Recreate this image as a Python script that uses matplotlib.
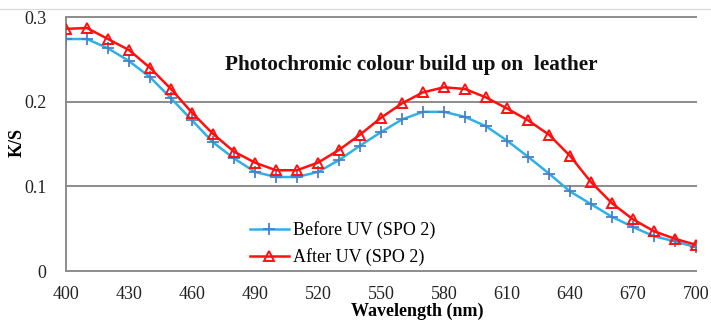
import matplotlib
matplotlib.use("Agg")
import matplotlib.pyplot as plt
from matplotlib.lines import Line2D

wavelength = list(range(400, 701, 10))
before_uv = [0.274, 0.274, 0.263, 0.248, 0.229, 0.204, 0.178, 0.152, 0.133, 0.117,
             0.111, 0.111, 0.117, 0.131, 0.148, 0.164, 0.179, 0.188, 0.188, 0.182,
             0.171, 0.154, 0.135, 0.115, 0.094, 0.079, 0.064, 0.052, 0.041, 0.035, 0.028]
after_uv = [0.286, 0.287, 0.274, 0.261, 0.240, 0.215, 0.187, 0.162, 0.141, 0.128,
            0.119, 0.119, 0.128, 0.143, 0.161, 0.181, 0.198, 0.211, 0.217, 0.215,
            0.205, 0.192, 0.178, 0.161, 0.136, 0.105, 0.080, 0.061, 0.047, 0.038, 0.031]
xticks = [400, 430, 460, 490, 520, 550, 580, 610, 640, 670, 700]
yticks = [0, 0.1, 0.2, 0.3]
ytick_labels = ["0", "0.1", "0.2", "0.3"]

plt.rcParams['font.family'] = ['Liberation Serif', 'DejaVu Serif']

fig = plt.figure(figsize=(7.11, 3.22), dpi=100)
ax = fig.add_axes([66/711, 1-271/322, (696-66)/711, (271-17)/322])

grid_c = '#8c8c8c'
for y in yticks[1:]:
    ax.axhline(y, color=grid_c, lw=1.4, zorder=1, clip_on=False)

ax.plot(wavelength, before_uv, color='#2fb0e6', lw=1.8, marker='+', markersize=8,
        markeredgecolor='#4a80c8', markeredgewidth=1.3, zorder=3, label='Before UV (SPO 2)')
ax.plot(wavelength, after_uv, color='#ff1010', lw=1.8, marker='^', markersize=7.5,
        markerfacecolor='none', markeredgecolor='#ff1010', markeredgewidth=1.4, zorder=4,
        label='After UV (SPO 2)')

ax.set_xlim(400, 700)
ax.set_ylim(0, 0.3)
ax.set_xticks(xticks)
ax.set_yticks(yticks)
ax.set_yticklabels(ytick_labels)
ax.tick_params(length=0, labelsize=13, colors='#222222', pad=11)
ax.tick_params(axis='y', pad=14)
for s in ['top', 'right']:
    ax.spines[s].set_visible(False)
for s in ['left', 'bottom']:
    ax.spines[s].set_color(grid_c)
    ax.spines[s].set_linewidth(1.4)

ax.text(0.548, 0.81, 'Photochromic colour build up on  leather', transform=ax.transAxes,
        ha='center', va='center', fontsize=15.3, fontweight='bold', color='#111111')

leg = ax.legend(loc='upper left', bbox_to_anchor=(0.28, 0.225), frameon=False,
                fontsize=13, handlelength=2.2, handletextpad=0.2, labelspacing=0.5,
                borderaxespad=0)

fig.text(17/711, 1-142/322, 'K/S', rotation=90, ha='center', va='center',
         fontsize=13, fontweight='bold')
fig.text(417/711, 1-311/322, 'Wavelength (nm)', ha='center', va='center',
         fontsize=13, fontweight='bold')

fig.add_artist(Line2D([0, 1], [1-9/322, 1-9/322], color='#dddddd', lw=1.0,
                      transform=fig.transFigure))

fig.savefig('out.png', dpi=100)
